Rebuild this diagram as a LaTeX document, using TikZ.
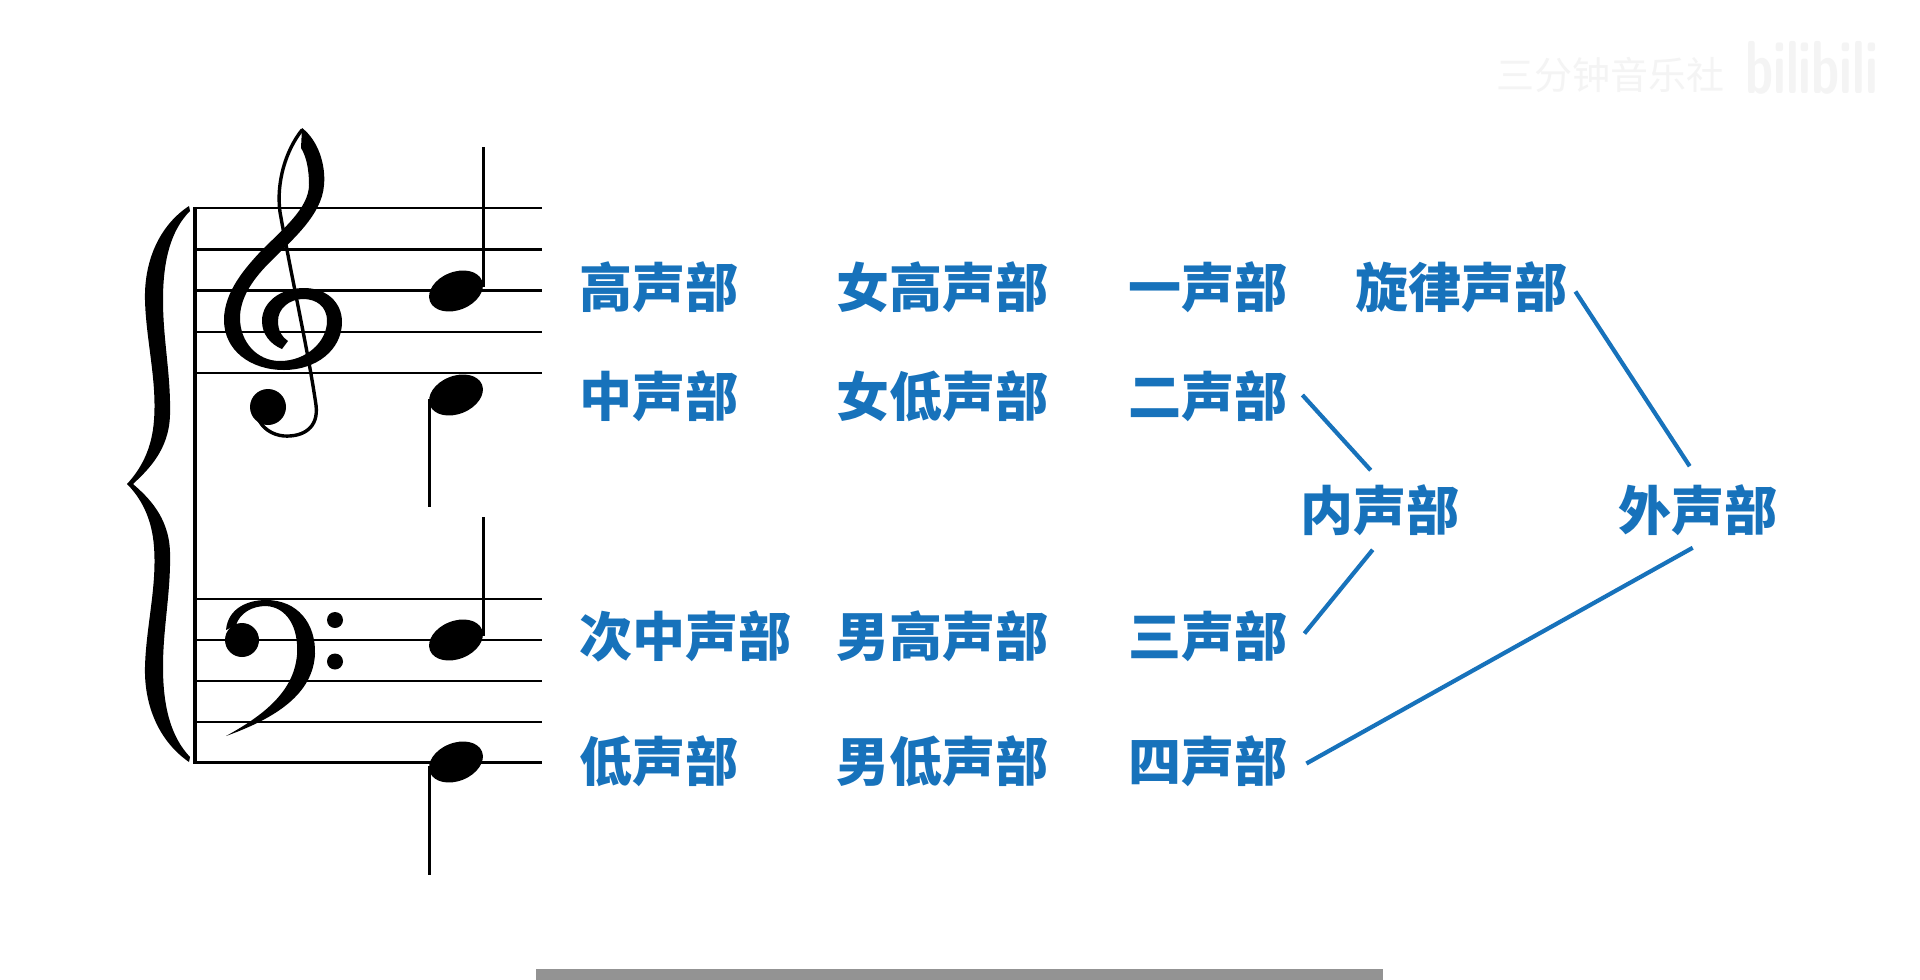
\documentclass[tikz,border=0pt]{standalone}
\usepackage{fontspec}
\newfontfamily\cjk{Noto Sans CJK SC}
\usetikzlibrary{calc}
\definecolor{vblue}{RGB}{23,114,187}
\definecolor{wmgray}{RGB}{244,244,244}
\definecolor{bargray}{RGB}{147,147,147}
\begin{document}
\begin{tikzpicture}[x=1pt,y=-1pt,
  lab/.style={anchor=west, inner sep=0pt, text=vblue, font=\cjk\bfseries\fontsize{53}{53}\selectfont},
  link/.style={draw=vblue, line width=4.2pt},
  staffline/.style={line width=2.5pt},
  stem/.style={line width=3.5pt}]
\useasboundingbox[fill=white] (0,0) rectangle (1920,980);

% watermark
\node[anchor=west, inner sep=0pt, text=wmgray, font=\cjk\fontsize{38}{38}\selectfont] (wm1) at (1496,75) {三分钟音乐社};
\node[anchor=west, inner sep=0pt, text=wmgray, font=\sffamily\bfseries\fontsize{50}{50}\selectfont, yscale=1.5] (wm2) at (1745,68) {bilibili};

% staff lines
\foreach \y in {208,249.3,290.6,331.9,373.2} {\draw[staffline] (195,\y) -- (542,\y);}
\foreach \y in {599,640,681,721.8,762.6} {\draw[staffline] (195,\y) -- (542,\y);}
% barline
\draw[line width=4.5pt] (195,207) -- (195,764);

% brace
\fill (189,206) .. controls (160,225) and (144,260) .. (145,300) .. controls (146,340) and (157,380) .. (154,420) .. controls (152,450) and (140,470) .. (127,484) .. controls (140,497) and (152,517) .. (154,547) .. controls (157,587) and (146,627) .. (145,667) .. controls (144,707) and (160,742) .. (189,762) -- (190,757) .. controls (171,737) and (163,707) .. (163,667) .. controls (163,627) and (171,592) .. (170,552) .. controls (169,517) and (148,497) .. (133,484) .. controls (148,470) and (169,450) .. (170,415) .. controls (171,375) and (163,340) .. (163,300) .. controls (163,260) and (171,230) .. (190,211) -- cycle;

% treble clef
\fill (302,128) .. controls (318,140) and (326,165) .. (324,185)
  .. controls (322,215) and (292,240) .. (270,262)
  .. controls (250,282) and (240,300) .. (240,318)
  .. controls (240,342) and (257,361) .. (280,361)
  .. controls (306,361) and (327,342) .. (327,321)
  .. controls (327,306) and (316,299) .. (303,299)
  .. controls (290,299) and (278,308) .. (278,321)
  .. controls (278,331) and (282,337) .. (288,341)
  -- (282,349)
  .. controls (270,344) and (262,334) .. (262,321)
  .. controls (262,301) and (282,288) .. (304,288)
  .. controls (326,288) and (342,302) .. (342,322)
  .. controls (342,350) and (316,370) .. (284,370)
  .. controls (250,370) and (224,350) .. (224,320)
  .. controls (224,292) and (245,268) .. (262,250)
  .. controls (282,230) and (309,208) .. (309,185)
  .. controls (309,168) and (306,156) .. (301,148) -- cycle;
\draw[line width=3.4pt, line cap=round] (302,130) .. controls (286,150) and (276,182) .. (280,212)
  .. controls (292,280) and (308,350) .. (316,405)
  .. controls (319,428) and (303,437) .. (284,436)
  .. controls (272,435) and (262,428) .. (258,418);
\fill (268,407) circle[radius=18];

% bass clef
\fill (226,630) .. controls (228,608) and (248,600) .. (266,600) .. controls (298,600) and (316,624) .. (315,654) .. controls (313,694) and (276,718) .. (226,736) .. controls (270,712) and (294,688) .. (297,655) .. controls (299,626) and (286,607) .. (266,606) .. controls (252,606) and (240,613) .. (236,625) -- cycle;
\fill (242,640) circle[radius=17];
\fill (335,620) circle[radius=8];
\fill (335,661.5) circle[radius=8];

% notes
\foreach \x/\y in {456/291, 456/395, 456/640, 456/762} {
  \begin{scope}[shift={(\x,\y)}, rotate=22]
    \fill (0,0) ellipse [x radius=28, y radius=19];
  \end{scope}
}
\draw[stem] (483.3,287) -- (483.3,147);
\draw[stem] (429.3,399) -- (429.3,507);
\draw[stem] (483.3,636) -- (483.3,517);
\draw[stem] (429.3,766) -- (429.3,875);

% labels
\node[lab] (c1r1) at (579,287.5) {高声部};
\node[lab] (c1r2) at (579,396.5) {中声部};
\node[lab] (c1r3) at (579,636.5) {次中声部};
\node[lab] (c1r4) at (579,761.5) {低声部};
\node[lab] (c2r1) at (836,287.5) {女高声部};
\node[lab] (c2r2) at (836,396.5) {女低声部};
\node[lab] (c2r3) at (836,636.5) {男高声部};
\node[lab] (c2r4) at (836,761.5) {男低声部};
\node[lab] (v1) at (1128,287.5) {一声部};
\node[lab] (v2) at (1128,396.5) {二声部};
\node[lab] (v3) at (1128,636.5) {三声部};
\node[lab] (v4) at (1128,761.5) {四声部};
\node[lab] (mel) at (1355,287.5) {旋律声部};
\node[lab] (inner) at (1300,510) {内声部};
\node[lab] (outer) at (1618,510) {外声部};

% connectors
\draw[link] ($(mel.east)+(8,4)$) -- ($(outer.north)+(-8,-18)$);
\draw[link] ($(v2.east)+(15,-1.5)$) -- ($(inner.north)+(-9,-14)$);
\draw[link] ($(v3.east)+(17,-3)$) -- ($(inner.south)+(-7,14)$);
\draw[link] ($(v4.east)+(19,2)$) -- ($(outer.south)+(-5,12)$);

% bottom bar
\fill[bargray] (536,969) rectangle (1383,980);
\end{tikzpicture}
\end{document}
